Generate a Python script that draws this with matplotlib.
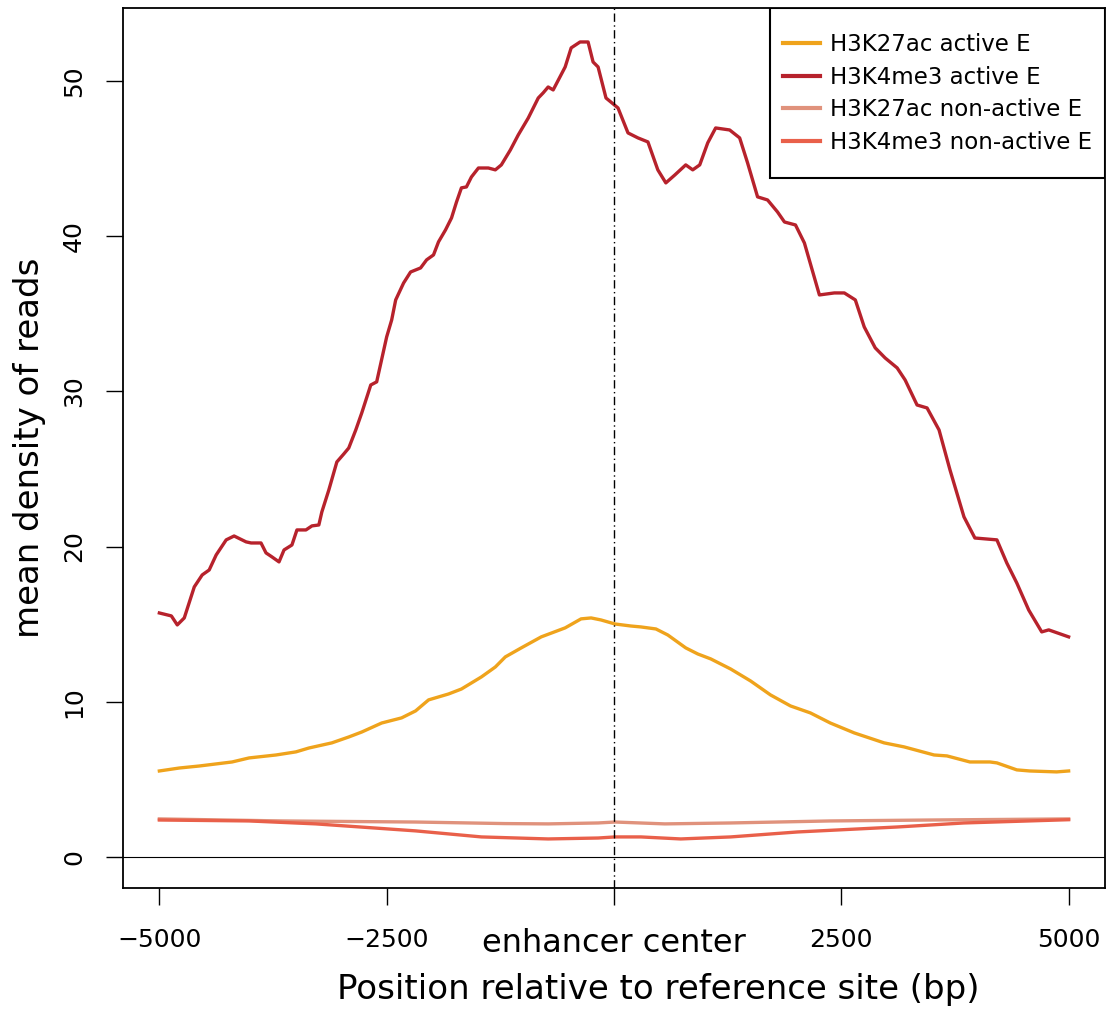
import matplotlib
matplotlib.use("Agg")
import matplotlib.pyplot as plt
from matplotlib.patches import Rectangle

# profile positions (bp from enhancer centre) and mean read density
k4_active_pos = [-5000, -4868, -4803, -4726, -4616, -4529, -4452, -4375, -4265, -4178,
                 -4046, -3991, -3882, -3827, -3761, -3684, -3629, -3542, -3487, -3388,
                 -3322, -3246, -3213, -3136, -3048, -2971, -2917, -2840, -2774, -2675,
                 -2610, -2500, -2445, -2401, -2314, -2237, -2127, -2061, -1985, -1930,
                 -1853, -1787, -1732, -1678, -1623, -1568, -1491, -1382, -1305, -1239,
                 -1140, -1053, -943, -833, -779, -724, -669, -537, -471, -373,
                 -285, -230, -175, -88, 44, 154, 263, 373, 482, 570,
                 669, 789, 866, 943, 1031, 1118, 1272, 1382, 1469, 1579,
                 1689, 1798, 1875, 1996, 2094, 2259, 2423, 2533, 2654, 2752,
                 2873, 2982, 3114, 3202, 3333, 3443, 3575, 3695, 3849, 3969,
                 4211, 4320, 4430, 4561, 4704, 4781, 5000]
k4_active = [15.72, 15.53, 14.95, 15.40, 17.40, 18.17, 18.49, 19.46, 20.43, 20.68,
             20.30, 20.23, 20.23, 19.59, 19.33, 19.01, 19.78, 20.10, 21.07, 21.07,
             21.33, 21.39, 22.23, 23.65, 25.45, 25.97, 26.35, 27.51, 28.61, 30.41,
             30.61, 33.51, 34.60, 35.89, 36.98, 37.69, 37.95, 38.47, 38.79, 39.63,
             40.40, 41.17, 42.20, 43.11, 43.17, 43.81, 44.39, 44.39, 44.27, 44.59,
             45.55, 46.52, 47.61, 48.90, 49.23, 49.61, 49.42, 50.90, 52.13, 52.51,
             52.51, 51.22, 50.90, 48.90, 48.26, 46.65, 46.33, 46.07, 44.27, 43.43,
             43.94, 44.59, 44.27, 44.59, 46.01, 46.97, 46.84, 46.33, 44.72, 42.53,
             42.33, 41.56, 40.91, 40.72, 39.56, 36.21, 36.34, 36.34, 35.89, 34.15,
             32.80, 32.15, 31.51, 30.73, 29.12, 28.93, 27.51, 24.94, 21.91, 20.55,
             20.43, 18.94, 17.65, 15.91, 14.50, 14.63, 14.18]

k27_active_pos = [-5000, -4781, -4561, -4200, -4013, -3717, -3498, -3355, -3103, -2917,
                  -2774, -2555, -2336, -2182, -2039, -1820, -1678, -1458, -1305, -1195,
                  -1020, -800, -537, -362, -252, -143, 11, 186, 296, 461,
                  592, 789, 921, 1064, 1283, 1502, 1721, 1941, 2160, 2379,
                  2643, 2971, 3191, 3520, 3662, 3914, 4134, 4211, 4430, 4572,
                  4868, 5000]
k27_active = [5.54, 5.73, 5.86, 6.12, 6.38, 6.57, 6.77, 7.02, 7.35, 7.73,
              8.05, 8.63, 8.96, 9.41, 10.12, 10.50, 10.82, 11.60, 12.24, 12.89,
              13.47, 14.18, 14.76, 15.34, 15.40, 15.27, 15.01, 14.88, 14.82, 14.69,
              14.30, 13.47, 13.08, 12.76, 12.11, 11.34, 10.44, 9.73, 9.28, 8.63,
              7.99, 7.35, 7.09, 6.57, 6.51, 6.12, 6.12, 6.06, 5.61, 5.54,
              5.48, 5.54]

k27_inactive_pos = [-5000, -3652, -2182, -1200, -724, -175, 11, 559, 1283, 2379, 3476, 5000]
k27_inactive = [2.45, 2.32, 2.25, 2.15, 2.13, 2.19, 2.25, 2.13, 2.19, 2.32, 2.38, 2.45]

k4_inactive_pos = [-5000, -4013, -3278, -2182, -1458, -724, -175, 11, 296, 734,
                   1283, 2018, 3114, 3849, 5000]
k4_inactive = [2.38, 2.32, 2.13, 1.68, 1.29, 1.16, 1.22, 1.29, 1.29, 1.16,
               1.29, 1.61, 1.93, 2.19, 2.40]

series_labels = ["H3K27ac active E", "H3K4me3 active E",
                 "H3K27ac non-active E", "H3K4me3 non-active E"]
series_colors = ["#EFA31C", "#B7222C", "#E0927C", "#E9604A"]

xtick_pos = [-5000, -2500, 0, 2500, 5000]
xtick_labels = ["\u22125000", "\u22122500", "enhancer center", "2500", "5000"]
ytick_pos = [0, 10, 20, 30, 40, 50]

fig = plt.figure(figsize=(11.1, 10.1), dpi=100)
ax = fig.add_axes([0.1108, 0.1208, 0.8847, 0.8713])

xs = [k27_active_pos, k4_active_pos, k27_inactive_pos, k4_inactive_pos]
ys = [k27_active, k4_active, k27_inactive, k4_inactive]
for x, y, lab, col in zip(xs, ys, series_labels, series_colors):
    ax.plot(x, y, color=col, lw=2.4, label=lab, solid_joinstyle="round")

ax.axhline(0, color="black", lw=0.8)
ax.axvline(0, color="black", lw=1.0, linestyle=(0, (6, 2.5, 1, 2.5)))

ax.set_xlim(-5400, 5400)
ax.set_ylim(-2.0, 54.7)

ax.set_xticks(xtick_pos)
ax.set_xticklabels(xtick_labels, fontsize=18)
# the centre label is set larger than the numbers
ax.get_xticklabels()[2].set_fontsize(23)
ax.set_yticks(ytick_pos)
ax.set_yticklabels([str(v) for v in ytick_pos], fontsize=18, rotation=90, va="center")
ax.tick_params(axis="x", direction="out", length=12.5, width=1.0, pad=16)
ax.tick_params(axis="y", direction="out", length=12.5, width=1.0, pad=14)

for sp in ax.spines.values():
    sp.set_linewidth(1.3)

ax.set_xlabel("Position relative to reference site (bp)", fontsize=24.5)
ax.xaxis.set_label_coords(0.545, -0.097)
ax.set_ylabel("mean density of reads", fontsize=24.5, labelpad=12)

# legend box flush with the top-right corner, drawn separately from the entries
ax.add_patch(Rectangle((0.6589, 0.8068), 0.3411, 0.1932, transform=ax.transAxes,
                       facecolor="white", edgecolor="black", lw=1.5, zorder=4))
leg = ax.legend(loc="upper left", bbox_to_anchor=(0.6721, 0.9716), borderaxespad=0,
                borderpad=0, fontsize=16.5, handlelength=1.6, handletextpad=0.45,
                labelspacing=0.42, frameon=False)
leg.set_zorder(5)
for ln in leg.get_lines():
    ln.set_linewidth(3)

fig.savefig("out.png", dpi=100)
